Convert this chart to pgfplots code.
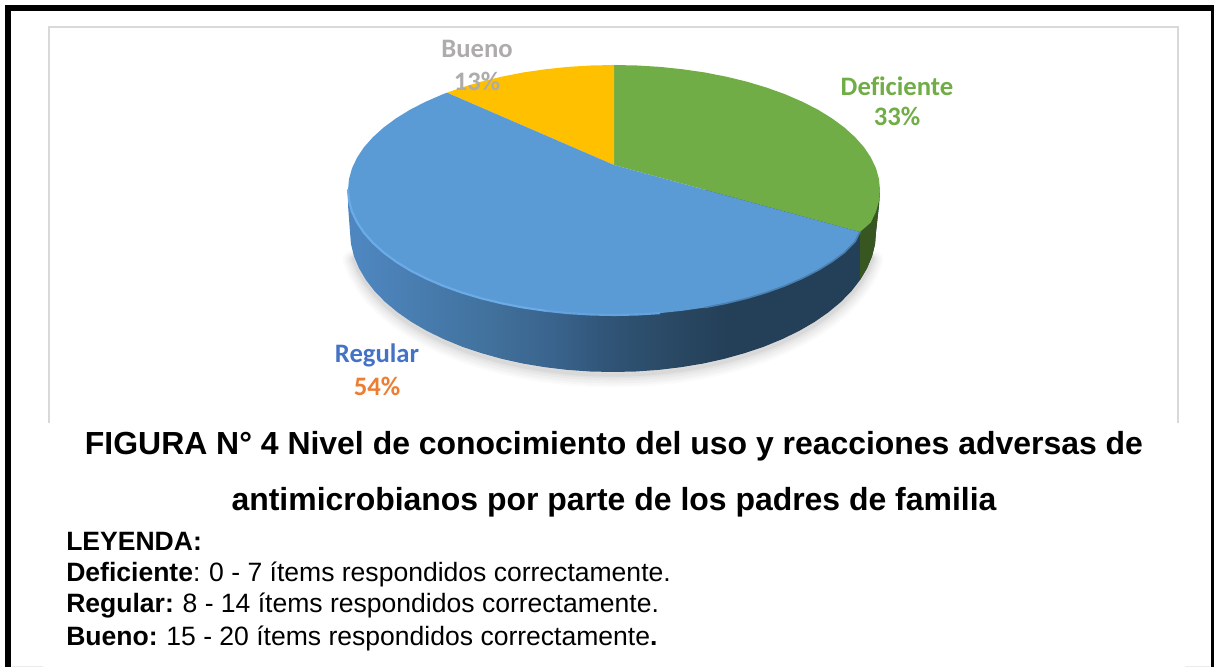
\documentclass[border=0pt]{standalone}
\usepackage{pgfplots}
\pgfplotsset{compat=1.18}
\usepackage{pgfplotstable}
\usepackage{fontspec}
\setmainfont{Liberation Sans}
\newfontfamily\calib[Ligatures={NoCommon}]{Carlito}
\definecolor{cgreen}{HTML}{70AD47}
\definecolor{cyellow}{HTML}{FFC000}
\definecolor{cblue}{HTML}{5B9BD5}
\definecolor{cgreenside}{HTML}{38561F}
\definecolor{crim}{HTML}{6BABE8}
\definecolor{lblBueno}{HTML}{AEABAB}
\definecolor{lblReg}{HTML}{4472C4}
\definecolor{lblPct}{HTML}{ED7D31}
\definecolor{frameg}{HTML}{D9D9D9}
\definecolor{sa}{HTML}{4E86BF}
\definecolor{sb}{HTML}{42739F}
\definecolor{sc}{HTML}{39628B}
\definecolor{sd}{HTML}{315679}
\definecolor{se}{HTML}{294761}
\definecolor{sf}{HTML}{243F58}
\pgfdeclarehorizontalshading{sideblue}{100bp}{
 color(0bp)=(sa); color(26bp)=(sa); color(37.4bp)=(sb); color(44.9bp)=(sc);
 color(48.7bp)=(sd); color(56.2bp)=(se); color(60.9bp)=(sf); color(100bp)=(sf)}
\pgfplotstableread{
x y
348 190
348 205
350 232
351 244.2
354 256.3
359 268.2
365.9 279.9
374.6 291.2
385.2 302
397.6 312.3
411.5 322
427 331
443.9 339.2
462.1 346.7
481.5 353.2
501.9 358.9
523.1 363.6
544.9 367.2
567.3 369.9
590.1 371.5
613 372
635.9 371.5
658.7 369.9
681.1 367.2
702.9 363.6
724.1 358.9
744.5 353.2
763.9 346.7
782.1 339.2
799 331
814.5 322
828.4 312.3
840.8 302
851.4 291.2
860.1 279.9
867 268.2
872 256.3
875 244.2
876 232
879 205
880 190
}\outline
\begin{document}
\begin{tikzpicture}
\begin{axis}[at={(0,0)},anchor=south west,scale only axis,width=910.5pt,height=500.25pt,
 xmin=0,xmax=1214,ymin=0,ymax=667,y dir=reverse,hide axis,no markers]
% soft shadow
\addplot[draw=black,opacity=.014,line width=17pt,line join=round,line cap=round,yshift=-3pt,skip coords between index={0}{4},skip coords between index={37}{41}] table {\outline};
\addplot[draw=black,opacity=.018,line width=14pt,line join=round,line cap=round,yshift=-3pt,skip coords between index={0}{4},skip coords between index={37}{41}] table {\outline};
\addplot[draw=black,opacity=.022,line width=11pt,line join=round,line cap=round,yshift=-3pt,skip coords between index={0}{4},skip coords between index={37}{41}] table {\outline};
\addplot[draw=black,opacity=.026,line width=8pt,line join=round,line cap=round,yshift=-2.5pt,skip coords between index={0}{4},skip coords between index={37}{41}] table {\outline};
\addplot[draw=black,opacity=.03,line width=5.5pt,line join=round,line cap=round,yshift=-2pt,skip coords between index={0}{4},skip coords between index={37}{41}] table {\outline};
\addplot[draw=black,opacity=.04,line width=3pt,line join=round,line cap=round,yshift=-2pt,skip coords between index={0}{4},skip coords between index={37}{41}] table {\outline};
% pie side
\addplot[draw=none,shade,shading=sideblue] table {\outline} --cycle;
\addplot[draw=none,fill=cgreenside] coordinates {(880,190)(879,200.9)(876,211.7)(870.9,222.4)(860,232)(860.1,279.9)(867,268.2)(872,256.3)(875,244.2)(876,232)(879,205)} --cycle;
% Deficiente 33
\addplot[draw=none,fill=cgreen] coordinates {(614,165)(614,65)(637.2,65.5)(660.2,66.9)(682.8,69.3)(705,72.5)(726.4,76.7)(747,81.7)(766.6,87.6)(785,94.2)(802.1,101.6)(817.8,109.6)(831.9,118.3)(844.4,127.5)(855.1,137.2)(864,147.2)(870.9,157.6)(876,168.3)(879,179.1)(880,190)(879,200.9)(876,211.7)(870.9,222.4)(860,232)} --cycle;
% Bueno 13
\addplot[draw=none,fill=cyellow] coordinates {(614,165)(447,92.7)(461.4,87.6)(481,81.7)(501.6,76.7)(523,72.5)(545.2,69.3)(567.8,66.9)(590.8,65.5)(614,65)} --cycle;
% Regular 54
\addplot[draw=none,fill=cblue] coordinates {(614,165)(860,232)(855.1,241.5)(844.4,252.5)(831.9,261.7)(817.8,270.4)(802.1,278.4)(785,285.8)(766.6,292.4)(747,298.3)(726.4,303.3)(705,307.5)(682.8,310.7)(660.2,313.1)(637.2,314.5)(614,315)(590.8,314.5)(567.8,313.1)(545.2,310.7)(523,307.5)(501.6,303.3)(481,298.3)(461.4,292.4)(443,285.8)(425.9,278.4)(410.2,270.4)(396.1,261.7)(383.6,252.5)(372.9,242.8)(364,232.8)(357.1,222.4)(352,211.7)(349,200.9)(348,190)(349,179.1)(352,168.3)(357.1,157.6)(364,147.2)(372.9,137.2)(383.6,127.5)(396.1,118.3)(410.2,109.6)(425.9,101.6)(443,94.2)(447,92.7)} --cycle;
% rim highlight
\addplot[draw=crim!50!cblue,line width=1.6pt] coordinates {(545.2,310.7)(567.8,313.1)(590.8,314.5)(614,315)(637.2,314.5)(660.2,313.1)};
\addplot[draw=crim,line width=1.6pt,line cap=round] coordinates {(348,190)(349,200.9)(352,211.7)(357.1,222.4)(364,232.8)(372.9,242.8)(383.6,252.5)(396.1,261.7)(410.2,270.4)(425.9,278.4)(443,285.8)(461.4,292.4)(481,298.3)(501.6,303.3)(523,307.5)(545.2,310.7)};
\addplot[draw=cblue!60!sd,line width=1.2pt] coordinates {(860,232)(855.1,241.5)(844.4,252.5)(831.9,261.7)(817.8,270.4)(802.1,278.4)(785,285.8)(766.6,292.4)(747,298.3)(726.4,303.3)(705,307.5)};
% frames
\addplot[draw=frameg,line width=1.5pt] coordinates {(49,423)(49,27)(1178,27)(1178,423)};
\addplot[draw=black,line width=4.5pt] coordinates {(8,667)(8,8)(1214,8)};
\addplot[draw=black,line width=2.5pt] coordinates {(1212.5,8)(1212.5,667)};
\addplot[draw=black!8,line width=1pt] coordinates {(12,666.3)(43,666.3)};
\addplot[draw=black!8,line width=1pt] coordinates {(1185,666.3)(1210,666.3)};
% labels
\node[font=\calib\fontsize{20}{24}\selectfont\bfseries,text=lblBueno,anchor=base] at (axis cs:477,58) {Bueno};
\node[font=\calib\fontsize{20}{24}\selectfont\bfseries,text=lblBueno,anchor=base] at (axis cs:477,91) {13\%};
\node[font=\calib\fontsize{20}{24}\selectfont\bfseries,text=cgreen,anchor=base] at (axis cs:897,95) {Deficiente};
\node[font=\calib\fontsize{20}{24}\selectfont\bfseries,text=cgreen,anchor=base] at (axis cs:897,126) {33\%};
\node[font=\calib\fontsize{20}{24}\selectfont\bfseries,text=lblReg,anchor=base] at (axis cs:377,362) {Regular};
\node[font=\calib\fontsize{20}{24}\selectfont\bfseries,text=lblPct,anchor=base] at (axis cs:377,395) {54\%};
% caption
\node[font=\fontsize{23.95}{28}\selectfont\bfseries,anchor=base] at (axis cs:614,454) {FIGURA N° 4 Nivel de conocimiento del uso y reacciones adversas de};
\node[font=\fontsize{23.95}{28}\selectfont\bfseries,anchor=base] at (axis cs:614,510) {antimicrobianos por parte de los padres de familia};
\node[font=\fontsize{19.9}{24}\selectfont\bfseries,anchor=base west,inner sep=0pt] at (axis cs:66,550) {LEYENDA:};
\node[font=\fontsize{19.9}{24}\selectfont,anchor=base west,inner sep=0pt] at (axis cs:66,581) {\textbf{Deficiente}:\hspace{-0.8pt} 0 - 7 ítems respondidos correctamente.};
\node[font=\fontsize{19.9}{24}\selectfont,anchor=base west,inner sep=0pt] at (axis cs:66,612) {\textbf{Regular:}\hspace{-0.8pt} 8 - 14 ítems respondidos correctamente.};
\node[font=\fontsize{19.9}{24}\selectfont,anchor=base west,inner sep=0pt] at (axis cs:66,645) {\textbf{Bueno:}\hspace{-0.8pt} 15 - 20 ítems respondidos correctamente\textbf{.}};
\end{axis}
\pgfresetboundingbox
\path (0,0) rectangle (910.5pt,500.25pt);
\end{tikzpicture}
\end{document}
